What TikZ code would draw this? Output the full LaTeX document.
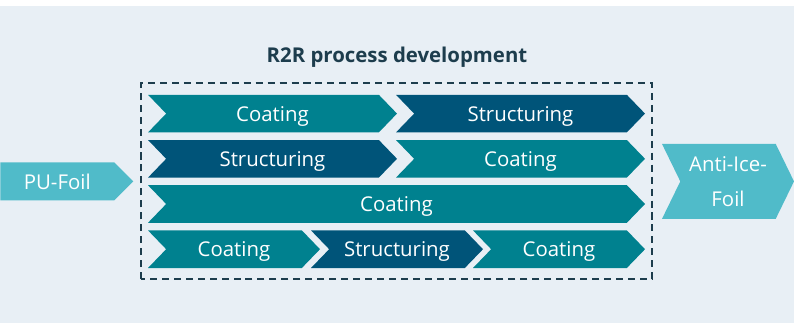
\documentclass[tikz,border=0pt]{standalone}
\usepackage{fontspec}
\setmainfont{Open Sans}
\usetikzlibrary{shapes.symbols}

\definecolor{pagebg}{HTML}{E8EFF5}
\definecolor{coatteal}{HTML}{00818F}
\definecolor{structblue}{HTML}{005479}
\definecolor{foilteal}{HTML}{50BBC9}
\definecolor{framegray}{HTML}{1D3D4D}

\tikzset{
  chev/.style={shape=signal, signal from=west, signal to=east,
    signal pointer angle=92, inner sep=0pt, minimum height=0.94cm,
    text depth=0pt, text=white, font=\fontsize{14.5}{17}\selectfont},
  coat/.style={chev, fill=coatteal},
  struct/.style={chev, fill=structblue},
  foil/.style={chev, fill=foilteal, signal pointer angle=90}
}

\begin{document}
\begin{tikzpicture}
    \useasboundingbox (0,0) rectangle (19.85,8.1);
    \fill[pagebg] (0,0.025) rectangle (19.85,7.95);

    % frame around the process variants
    \node[text=framegray, font=\bfseries\fontsize{14.5}{17}\selectfont]
        (title) at (9.925,6.68) {R2R process development};
    \draw[framegray, line width=1.9pt, dash pattern=on 5pt off 3.5pt]
        (3.525,1.125) rectangle (16.3,6.025);

    % first row
    \node[coat, minimum width=6.225cm] (c11) at (6.8125,5.26) {Coating};
    \node[struct, minimum width=6.225cm] (s12) at (13.0125,5.26) {Structuring};

    % second row
    \node[struct, minimum width=6.225cm] (s21) at (6.8125,4.13) {Structuring};
    \node[coat, minimum width=6.225cm] (c22) at (13.0125,4.13) {Coating};

    % third row
    \node[coat, minimum width=12.425cm] (c31) at (9.9125,3.0) {Coating};

    % fourth row
    \node[coat, minimum width=4.3cm] (c41) at (5.85,1.87) {Coating};
    \node[struct, minimum width=4.3cm] (s42) at (9.925,1.87) {Structuring};
    \node[coat, minimum width=4.3cm] (c43) at (13.975,1.87) {Coating};

    % input and output foil
    \node[foil, signal from=nowhere, minimum width=3.325cm, minimum height=0.95cm,
        anchor=west] (pufoil) at (0,3.565) {PU-Foil};
    \node[foil, signal pointer angle=128, minimum width=3.3cm, minimum height=1.875cm,
        align=center, font=\fontsize{14.5}{25}\selectfont]
        (antiice) at (18.2,3.565) {Anti-Ice-\\Foil};
\end{tikzpicture}
\end{document}
